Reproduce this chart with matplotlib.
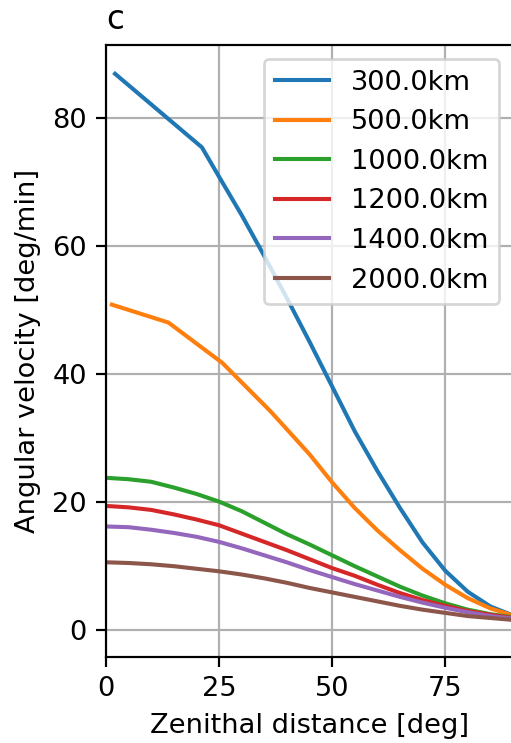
import matplotlib
matplotlib.use("Agg")
import matplotlib.pyplot as plt

# Angular velocity of a satellite vs zenithal distance, for several altitudes
labels = ["300.0km", "500.0km", "1000.0km", "1200.0km", "1400.0km", "2000.0km"]

z_300 = [2.0, 21.2, 25, 30, 35, 40, 45, 50, 55, 60, 65, 70, 75, 80, 85, 90]
w_300 = [86.9, 75.4, 70.8, 64.8, 58.4, 51.8, 45.0, 38.0, 31.0, 24.8, 19.0, 13.6, 9.2, 5.9, 3.6, 2.2]

z_500 = [1.3, 13.8, 25.7, 36.4, 40, 45, 50, 55, 60, 65, 70, 75, 80, 85, 90]
w_500 = [50.8, 48.0, 41.7, 34.1, 31.3, 27.4, 23.0, 19.0, 15.5, 12.4, 9.5, 7.0, 4.9, 3.3, 2.2]

z_grid = [0.5, 5, 10, 15, 20, 25, 30, 35, 40, 45, 50, 55, 60, 65, 70, 75, 80, 85, 90]
w_1000 = [23.7, 23.5, 23.1, 22.2, 21.2, 20.0, 18.5, 16.7, 14.9, 13.3, 11.6, 9.9, 8.3, 6.7, 5.3, 4.1, 3.1, 2.4, 1.9]
w_1200 = [19.3, 19.1, 18.7, 18.0, 17.2, 16.3, 15.0, 13.7, 12.4, 11.0, 9.6, 8.4, 7.0, 5.7, 4.6, 3.7, 2.9, 2.3, 1.8]
w_1400 = [16.1, 16.0, 15.6, 15.1, 14.5, 13.7, 12.7, 11.6, 10.5, 9.3, 8.2, 7.1, 6.1, 5.1, 4.2, 3.4, 2.7, 2.1, 1.7]
w_2000 = [10.5, 10.4, 10.2, 9.9, 9.5, 9.1, 8.6, 8.0, 7.3, 6.5, 5.8, 5.1, 4.4, 3.7, 3.1, 2.6, 2.1, 1.8, 1.5]

series = [
    (z_300, w_300),
    (z_500, w_500),
    (z_grid, w_1000),
    (z_grid, w_1200),
    (z_grid, w_1400),
    (z_grid, w_2000),
]

DPI = 196
fig = plt.figure(figsize=(511 / DPI, 743 / DPI), dpi=DPI)
ax = fig.add_axes([106 / 511, 1 - 657 / 743, 1.004 - 106 / 511, (657 - 45) / 743])

for (z, w), lab in zip(series, labels):
    ax.plot(z, w, lw=1.5, label=lab)

ax.set_xlim(0, 90)
ax.set_ylim(-4.3, 91.4)
ax.set_xticks([0, 25, 50, 75])
ax.set_yticks([0, 20, 40, 60, 80])
ax.grid(True)
ax.set_xlabel("Zenithal distance [deg]")
ax.set_ylabel("Angular velocity [deg/min]")
ax.set_title("c", loc="left")
ax.legend(loc="upper right")

fig.savefig("out.png", dpi=DPI)
